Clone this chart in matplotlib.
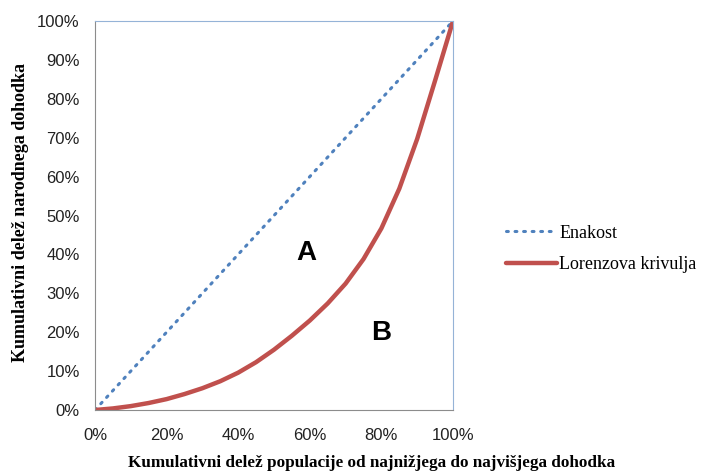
import numpy as np
import matplotlib.pyplot as plt
from matplotlib.ticker import PercentFormatter

# cumulative share of population (%) and income (%)
populacija = [0, 5, 10, 15, 20, 25, 30, 35, 40, 45, 50, 55, 60, 65, 70, 75, 80, 85, 90, 95, 100]
lorenz = [0, 0.4, 1.0, 1.8, 2.8, 4.1, 5.6, 7.4, 9.6, 12.3, 15.5, 19.1, 23.0, 27.4, 32.5,
          38.8, 46.7, 56.9, 69.7, 84.7, 100]
enakost = [0, 100]

fig = plt.figure(figsize=(7.05, 4.72), dpi=100)
ax = fig.add_axes([95/705, 1 - 410/472, 358/705, 389/472])

ax.plot(enakost, enakost, color='#4F81BD', lw=2.2, linestyle=(0, (0.6, 2.2)),
        dash_capstyle='round', label='Enakost')
ax.plot(populacija, lorenz, color='#C0504D', lw=3.2, solid_capstyle='round',
        solid_joinstyle='round', label='Lorenzova krivulja')

ax.text(59.0, 40.3, 'A', fontsize=20, fontweight='bold', family='Liberation Sans',
        ha='center', va='center')
ax.text(80.0, 19.7, 'B', fontsize=20, fontweight='bold', family='Liberation Sans',
        ha='center', va='center')

ax.set_xlim(0, 100)
ax.set_ylim(0, 100)
ax.set_xticks(np.arange(0, 101, 20))
ax.set_yticks(np.arange(0, 101, 10))
ax.xaxis.set_major_formatter(PercentFormatter(decimals=0))
ax.yaxis.set_major_formatter(PercentFormatter(decimals=0))
ax.tick_params(length=0, labelsize=12, labelcolor='#222222')
ax.tick_params(axis='x', pad=13)
ax.tick_params(axis='y', pad=11)
for lab in ax.get_xticklabels() + ax.get_yticklabels():
    lab.set_family('Liberation Sans')

for s in ['left', 'bottom']:
    ax.spines[s].set_color('#8c8c8c')
for s in ['top', 'right']:
    ax.spines[s].set_color('#95b3d7')

fig.text(21/705, 1 - 212/472, 'Kumulativni delež narodnega dohodka', rotation=90,
         family='Liberation Serif', fontweight='bold', fontsize=13, ha='center', va='center')
fig.text(372/705, 1 - 463/472, 'Kumulativni delež populacije od najnižjega do najvišjega dohodka',
         family='Liberation Serif', fontweight='bold', fontsize=12.3, ha='center', va='center')

leg = fig.legend(loc='center left', bbox_to_anchor=(499/705, 1 - 249/472), frameon=False,
                 prop={'family': 'Liberation Serif', 'size': 13}, handlelength=2.8,
                 labelspacing=0.8, handletextpad=0.15, borderaxespad=0)

fig.savefig('out.png', dpi=100)
